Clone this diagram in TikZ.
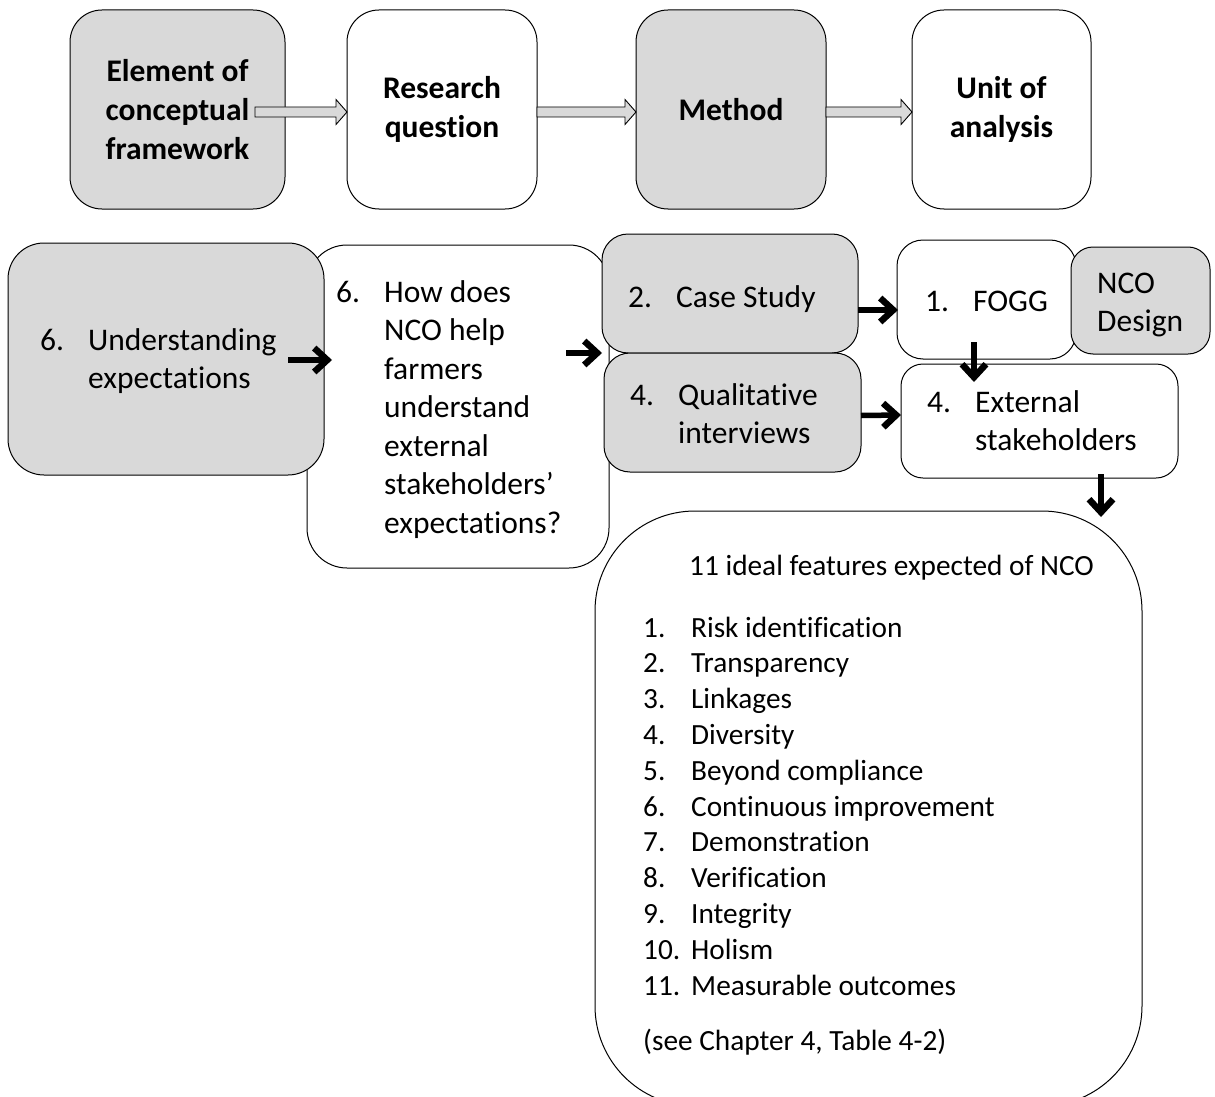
\documentclass[tikz,border=0pt]{standalone}
\usepackage{fontspec}
\setmainfont{Carlito}[Ligatures=CommonOff]
\usetikzlibrary{arrows.meta,calc}
\definecolor{shade}{HTML}{D9D9D9}

% a numbered line with a hanging indent
\newcommand\itm[2]{\makebox[48pt][l]{#1}#2}
% outlined block arrow between two points, level with the start point
\newcommand\fatarrow[2]{%
  \draw[fatarrow] let \p1=(#1), \p2=(#2) in
    (\x1,\y1+5pt) -- (\x2-11pt,\y1+5pt) -- (\x2-11pt,\y1+12.5pt) -- (\x2,\y1)
    -- (\x2-11pt,\y1-12.5pt) -- (\x2-11pt,\y1-5pt) -- (\x1,\y1-5pt) -- cycle;}

\begin{document}
\begin{tikzpicture}[x=1pt,y=-1pt,
  box/.style={draw=black, line width=1pt, rectangle, inner sep=0pt, outer sep=0pt},
  greybox/.style={box, fill=shade},
  whitebox/.style={box, fill=white},
  head/.style={font=\bfseries\fontsize{31.5}{39}\selectfont, align=center, inner sep=0pt},
  txt/.style={anchor=base west, inner sep=0pt, font=\fontsize{31.5}{38.5}\selectfont},
  listtxt/.style={anchor=base west, inner sep=0pt, font=\fontsize{29.3}{35.8}\selectfont},
  fatarrow/.style={draw=black, line width=0.9pt, fill=shade, line join=miter},
  blk/.style={line width=5.5pt, -{Straight Barb[length=13pt,width=24pt,line width=6.5pt]}}]
\clip (0,0) rectangle (1215,1097);
\fill[white] (0,0) rectangle (1215,1097);

% header row
\node[greybox, rounded corners=32pt, minimum width=215pt, minimum height=199pt] (t1) at (177.5,109.5) {};
\node[whitebox, rounded corners=32pt, minimum width=190pt, minimum height=199pt] (t2) at (442,109.5) {};
\node[greybox, rounded corners=32pt, minimum width=190pt, minimum height=199pt] (t3) at (731,109.5) {};
\node[whitebox, rounded corners=32pt, minimum width=179pt, minimum height=199pt] (t4) at (1001.5,109.5) {};
\node[head] (h1) at (t1) {Element of\\conceptual\\framework};
\node[head] (h2) at (t2) {Research\\question};
\node[head] (h3) at (t3) {Method};
\node[head] (h4) at (t4) {Unit of\\analysis};
\fatarrow{$(t1.east)+(-30,2.5)$}{$(t2.west)+(0,2.5)$}
\fatarrow{$(t2.east)+(0,2.5)$}{$(t3.west)+(0,2.5)$}
\fatarrow{$(t3.east)+(0,2.5)$}{$(t4.west)+(0,2.5)$}

% research question and conceptual element
\node[whitebox, rounded corners=40pt, minimum width=302pt, minimum height=323pt] (rq) at (458,406.5) {};
\node[greybox, rounded corners=36pt, minimum width=316pt, minimum height=232pt] (el) at (166,359) {};
\node[txt] (lel) at (40,350) {\begin{tabular}[t]{@{}l@{}}\itm{6.}{Understanding}\\\itm{}{expectations}\end{tabular}};
\node[txt] (lrq) at (336,302) {\begin{tabular}[t]{@{}l@{}}\itm{6.}{How does}\\\itm{}{NCO help}\\\itm{}{farmers}\\\itm{}{understand}\\\itm{}{external}\\\itm{}{stakeholders’}\\\itm{}{expectations?}\end{tabular}};

% methods
\node[greybox, rounded corners=26pt, minimum width=256pt, minimum height=119pt] (case) at (730,293.5) {};
\node[greybox, rounded corners=26pt, minimum width=257pt, minimum height=119pt] (qual) at (732.5,412.5) {};
\node[txt] (lcase) at (628,307) {\itm{2.}{Case Study}};
\node[txt] (lqual) at (630,405) {\begin{tabular}[t]{@{}l@{}}\itm{4.}{Qualitative}\\\itm{}{interviews}\end{tabular}};

% units of analysis
\node[whitebox, rounded corners=26pt, minimum width=179pt, minimum height=119pt] (fogg) at (986.5,299.5) {};
\node[greybox, rounded corners=22pt, minimum width=139pt, minimum height=107pt] (nco) at (1140.5,300.5) {};
\node[whitebox, rounded corners=22pt, minimum width=277pt, minimum height=114pt] (ext) at (1039.5,421) {};
\node[txt] (lfogg) at (925,311) {\itm{1.}{FOGG}};
\node[txt] (lnco) at (1097,293) {\begin{tabular}[t]{@{}l@{}}NCO\\Design\end{tabular}};
\node[txt] (lext) at (927,412) {\begin{tabular}[t]{@{}l@{}}\itm{4.}{External}\\\itm{}{stakeholders}\end{tabular}};

% features list
\node[whitebox, rounded corners=100pt, minimum width=547pt, minimum height=595pt] (feat) at (868.5,808.5) {};
\node[listtxt] (ltitle) at (689,575) {11 ideal features expected of NCO};
\node[listtxt] (llist) at (643,637) {\begin{tabular}[t]{@{}l@{}}
\itm{1.}{Risk identification}\\
\itm{2.}{Transparency}\\
\itm{3.}{Linkages}\\
\itm{4.}{Diversity}\\
\itm{5.}{Beyond compliance}\\
\itm{6.}{Continuous improvement}\\
\itm{7.}{Demonstration}\\
\itm{8.}{Verification}\\
\itm{9.}{Integrity}\\
\itm{10.}{Holism}\\
\itm{11.}{Measurable outcomes}\end{tabular}};
\node[listtxt] (lsee) at (643,1050) {(see Chapter 4, Table 4-2)};

% connectors
\draw[blk] ($(el.east)+(-36,1)$) -- ($(el.east)+(8,1)$);
\draw[blk] ($(case.south west)+(-36,0)$) -- (case.south west);
\draw[blk] ($(case.east)+(0,16.5)$) -- ++(40,0);
\draw[blk] ($(qual.east)+(0,3)$) -- ($(ext.west)+(0,-6)$);
\draw[blk] ($(fogg.south)+(-12.5,-17)$) -- ++(0,40);
\draw[blk] ($(ext.south)+(61.5,-4)$) -- ++(0,43);
\end{tikzpicture}
\end{document}
